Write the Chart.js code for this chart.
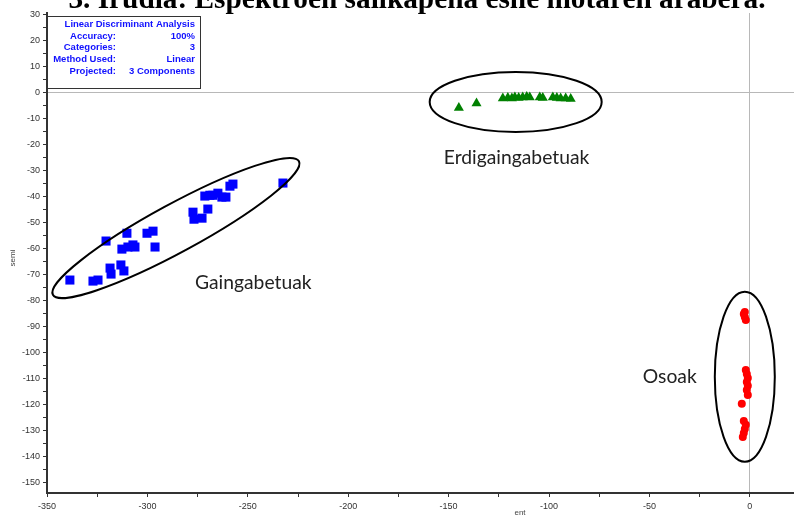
<!DOCTYPE html>
<html>
<head>
<meta charset="utf-8">
<script src="https://cdn.jsdelivr.net/npm/chart.js@4/dist/chart.umd.min.js"></script>
<style>
  html, body { margin: 0; padding: 0; background: #fff; }
  canvas { display: block; }
</style>
</head>
<body>
<canvas id="lda" width="794" height="518"></canvas>
<script>
// Discriminant scores (ent, semi) per milk type
const gaingabetuakEnt  = [-338.6,-327.1,-324.6,-320.6,-318.6,-318.1,-313.2,-311.7,-312.7,-309.7,-307.2,-306.2,-310.2,-300.2,-297.2,-296.2,-277.3,-276.8,-272.8,-269.9,-271.4,-268.9,-267.4,-264.9,-262.9,-260.9,-258.9,-257.4,-232.5];
const gaingabetuakSemi = [-72.1,-72.5,-72.1,-57.1,-67.5,-69.8,-66.3,-68.6,-60.2,-59.4,-58.6,-59.4,-54.1,-54.1,-53.3,-59.4,-46.0,-48.7,-48.3,-44.8,-39.8,-39.5,-39.5,-38.7,-40.2,-40.2,-36.0,-35.2,-34.8];

const erdigaingabetuakEnt  = [-144.9,-136.1,-123.0,-120.5,-118.5,-117.0,-115.1,-113.1,-111.1,-109.6,-104.6,-103.1,-98.1,-96.1,-94.2,-91.7,-89.2];
const erdigaingabetuakSemi = [-5.9,-4.1,-2.2,-2.0,-2.2,-1.8,-2.0,-1.8,-1.6,-1.8,-1.8,-2.0,-1.8,-2.0,-2.2,-2.2,-2.4];

const osoakEnt  = [-2.5,-3.0,-2.5,-2.0,-2.0,-1.5,-1.0,-1.5,-1.0,-1.5,-1.0,-4.0,-3.0,-2.0,-2.5,-3.0,-3.5];
const osoakSemi = [-84.4,-85.2,-86.3,-87.5,-106.7,-108.2,-109.8,-111.3,-112.8,-114.4,-116.3,-119.7,-126.3,-127.8,-129.4,-130.9,-132.5];

// Axis tick labels
const xTickLabels = [-350,-300,-250,-200,-150,-100,-50,0];
const yTickLabels = [30,20,10,0,-10,-20,-30,-40,-50,-60,-70,-80,-90,-100,-110,-120,-130,-140,-150];

// Group names and the ellipses drawn round each group
const groupNames = ['Gaingabetuak','Erdigaingabetuak','Osoak'];
const groupLabelAt = [[-276.3,-73.3],[-152.4,-25.2],[-53.3,-109.4]];
const groupEllipses = [
  {cx:-285.8, cy:-52.1, rx:140, ry:24, rot:-28.5},
  {cx:-116.6, cy:-3.6,  rx:86,  ry:30, rot:0},
  {cx:-2.5,   cy:-109.3,rx:30,  ry:85, rot:0}
];

// Summary box
const infoLabels = ['Accuracy:','Categories:','Method Used:','Projected:'];
const infoValues = ['100%','3','Linear','3 Components'];

const toPoints = (xs, ys) => xs.map((x, i) => ({x, y: ys[i]}));

// tick list with a minor tick between each pair of major ticks
function withMinor(major) {
  const out = [];
  const sorted = major.slice().sort((a,b)=>a-b);
  for (let i = 0; i < sorted.length; i++) {
    out.push(sorted[i]);
    if (i < sorted.length - 1) out.push((sorted[i] + sorted[i+1]) / 2);
  }
  return out;
}

const decorations = {
  id: 'decorations',
  afterDatasetsDraw(chart) {
    const {ctx, scales: {x, y}, chartArea} = chart;
    ctx.save();

    // ellipses
    ctx.strokeStyle = '#000';
    ctx.lineWidth = 2;
    groupEllipses.forEach(e => {
      ctx.beginPath();
      ctx.ellipse(x.getPixelForValue(e.cx), y.getPixelForValue(e.cy), e.rx, e.ry, e.rot * Math.PI / 180, 0, Math.PI * 2);
      ctx.stroke();
    });

    // group names
    ctx.fillStyle = '#222';
    ctx.font = '19.3px Lato, "Open Sans", sans-serif';
    ctx.textAlign = 'left';
    ctx.textBaseline = 'middle';
    groupNames.forEach((n, i) => {
      ctx.fillText(n, x.getPixelForValue(groupLabelAt[i][0]), y.getPixelForValue(groupLabelAt[i][1]));
    });

    // summary box
    const bx = chartArea.left, by = 16, bw = 153, bh = 72;
    ctx.fillStyle = '#fff';
    ctx.fillRect(bx, by, bw, bh);
    ctx.strokeStyle = '#333';
    ctx.lineWidth = 1;
    ctx.strokeRect(bx + 0.5, by + 0.5, bw, bh);
    ctx.fillStyle = '#1010ff';
    ctx.font = 'bold 9.5px "Liberation Sans Narrow", "Liberation Sans", sans-serif';
    ctx.textAlign = 'right';
    ctx.textBaseline = 'middle';
    ctx.fillText('Linear Discriminant Analysis', 195, 24.5);
    infoLabels.forEach((l, i) => {
      ctx.fillText(l, 116, 36 + i * 11.7);
      ctx.fillText(infoValues[i], 195, 36 + i * 11.7);
    });

    // axis titles
    ctx.fillStyle = '#444';
    ctx.font = '8px "Liberation Sans", sans-serif';
    ctx.textAlign = 'center';
    ctx.fillText('ent', 520, 513);
    ctx.save();
    ctx.translate(13, 258);
    ctx.rotate(-Math.PI / 2);
    ctx.fillText('semi', 0, 0);
    ctx.restore();

    // figure caption
    ctx.fillStyle = '#000';
    ctx.font = 'bold 29.3px "Liberation Serif", "DejaVu Serif", serif';
    ctx.textAlign = 'center';
    ctx.textBaseline = 'alphabetic';
    ctx.fillText('3. Irudia: Espektroen sailkapena esne motaren arabera.', 417, 8);

    ctx.restore();
  }
};

new Chart(document.getElementById('lda'), {
  type: 'scatter',
  data: {
    datasets: [
      {label: groupNames[0], data: toPoints(gaingabetuakEnt, gaingabetuakSemi), pointStyle: 'rect', pointRadius: 6.4, backgroundColor: '#0000ff', borderColor: '#0000ff', borderWidth: 0},
      {label: groupNames[1], data: toPoints(erdigaingabetuakEnt, erdigaingabetuakSemi), pointStyle: 'triangle', pointRadius: 5.8, backgroundColor: '#008000', borderColor: '#008000', borderWidth: 0},
      {label: groupNames[2], data: toPoints(osoakEnt, osoakSemi), pointStyle: 'circle', pointRadius: 4, backgroundColor: '#ff0000', borderColor: '#ff0000', borderWidth: 0}
    ]
  },
  options: {
    responsive: false,
    animation: false,
    devicePixelRatio: 1,
    layout: {autoPadding: false, padding: {top: 13, left: 0, right: 0, bottom: 0}},
    plugins: {legend: {display: false}, tooltip: {enabled: false}, title: {display: false}},
    scales: {
      x: {
        type: 'linear',
        min: -350, max: 22,
        afterBuildTicks: s => { s.ticks = withMinor(xTickLabels).map(v => ({value: v})); },
        afterFit: s => { s.height = 25; s.paddingLeft = 0; s.paddingRight = 0; },
        ticks: {
          autoSkip: false, maxRotation: 0, padding: 4, color: '#333',
          font: {size: 9, family: '"Liberation Sans", Arial, sans-serif'},
          callback: v => xTickLabels.includes(v) ? String(v) : ''
        },
        grid: {
          color: c => (c.tick && c.tick.value === 0) ? '#b8b8b8' : 'rgba(0,0,0,0)',
          lineWidth: 1, tickColor: '#333', tickLength: 4, drawTicks: true
        },
        border: {display: true, color: '#333', width: 2}
      },
      y: {
        type: 'linear',
        min: -154, max: 30.6,
        afterBuildTicks: s => { s.ticks = withMinor(yTickLabels).map(v => ({value: v})); },
        afterFit: s => { s.width = 47; s.paddingTop = 0; s.paddingBottom = 0; },
        ticks: {
          autoSkip: false, padding: 3, color: '#333',
          font: {size: 9, family: '"Liberation Sans", Arial, sans-serif'},
          callback: v => yTickLabels.includes(v) ? String(v) : ''
        },
        grid: {
          color: c => (c.tick && c.tick.value === 0) ? '#b8b8b8' : 'rgba(0,0,0,0)',
          lineWidth: 1, tickColor: '#333', tickLength: 4, drawTicks: true
        },
        border: {display: true, color: '#333', width: 2}
      }
    }
  },
  plugins: [decorations]
});
</script>
</body>
</html>
